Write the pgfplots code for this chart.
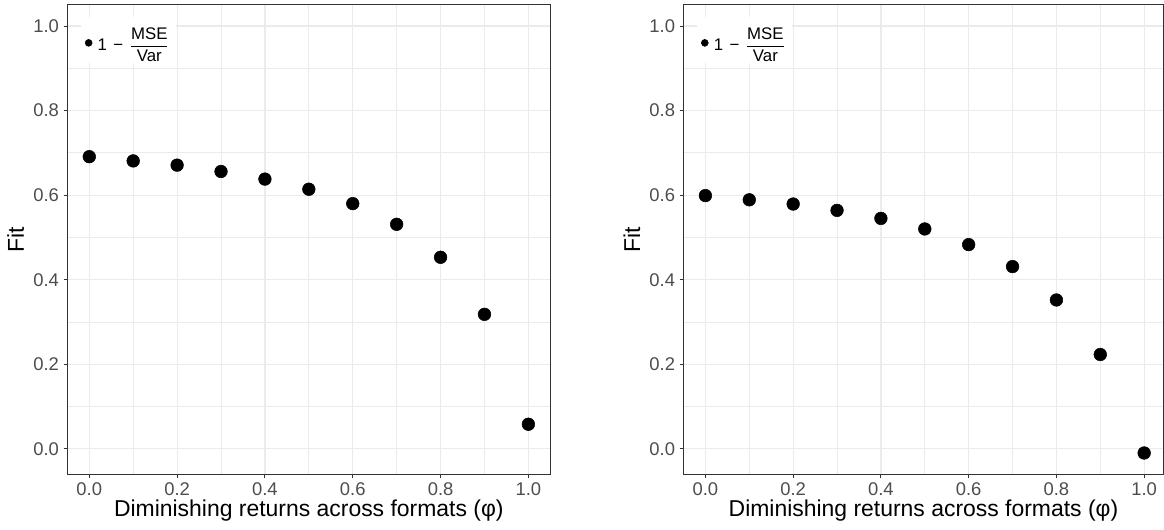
\documentclass[border=0pt]{standalone}
\usepackage{pgfplots}
\pgfplotsset{compat=1.18}
\usepackage{fontspec}
\setmainfont{Liberation Sans}
\definecolor{gridc}{HTML}{EBEBEB}
\definecolor{tickc}{HTML}{4D4D4D}
\definecolor{framec}{HTML}{333333}
\pgfplotsset{
  ggpts/.style={black, only marks, mark=*, mark size=4.75pt, mark options={fill=black, draw=black}},
  ggpanel/.style={
    scale only axis,
    anchor=south west,
    height=352.2pt,
    xmin=-0.05, ymin=-0.0605, ymax=1.0505,
    xtick={0,0.2,0.4,0.6,0.8,1.0},
    ytick={0,0.2,0.4,0.6,0.8,1.0},
    minor xtick={0.1,0.3,0.5,0.7,0.9},
    minor ytick={0.1,0.3,0.5,0.7,0.9},
    grid=both,
    major grid style={draw=gridc, line width=0.9pt},
    minor grid style={draw=gridc, line width=0.6pt},
    minor tick length=0pt,
    major tick length=2.8pt,
    tick align=outside,
    tick pos=left,
    tick style={draw=framec, line width=0.8pt},
    axis line style={draw=framec, line width=0.9pt},
    /pgf/number format/.cd, fixed, fixed zerofill, precision=1, assume math mode=true,
    /pgfplots/.cd,
    ticklabel style={font=\fontsize{13.8}{15}\selectfont, text=tickc},
    xlabel={Diminishing returns across formats (φ)},
    ylabel={Fit},
    label style={font=\fontsize{17.2}{19}\selectfont, text=black},
    xlabel style={yshift=4pt},
    ylabel style={yshift=0pt},
    legend style={at={(axis description cs:0,1)}, anchor=north west, fill=white, draw=none,
      font=\fontsize{12.6}{14}\selectfont, inner xsep=3pt, inner ysep=6pt, xshift=10pt, yshift=-9pt,
      cells={anchor=west}},
    legend image code/.code={\fill[black] (-3pt,-2.2pt) circle (2.6pt);},
  }
}
\newcommand{\fitleg}{\hspace{2pt}$\displaystyle\mbox{1\,}\mathbin{\mbox{−}}\,\frac{\mbox{MSE}}{\mbox{Var}}$}
\begin{document}
\begin{tikzpicture}
\useasboundingbox (0,0) rectangle (873pt,396.75pt);
\begin{axis}[ggpanel, at={(50.5pt,41pt)}, width=362.25pt, xmax=1.05]
\addplot[ggpts] coordinates {(0.0,0.691) (0.1,0.681) (0.2,0.671) (0.3,0.656) (0.4,0.638) (0.5,0.614) (0.6,0.580) (0.7,0.531) (0.8,0.453) (0.9,0.318) (1.0,0.058)};
\addlegendentry{\fitleg}
\end{axis}
\begin{axis}[ggpanel, at={(512.6pt,41pt)}, width=360pt, xmax=1.044]
\addplot[ggpts] coordinates {(0.0,0.599) (0.1,0.589) (0.2,0.579) (0.3,0.564) (0.4,0.545) (0.5,0.520) (0.6,0.483) (0.7,0.431) (0.8,0.352) (0.9,0.223) (1.0,-0.010)};
\addlegendentry{\fitleg}
\end{axis}
\end{tikzpicture}
\end{document}
